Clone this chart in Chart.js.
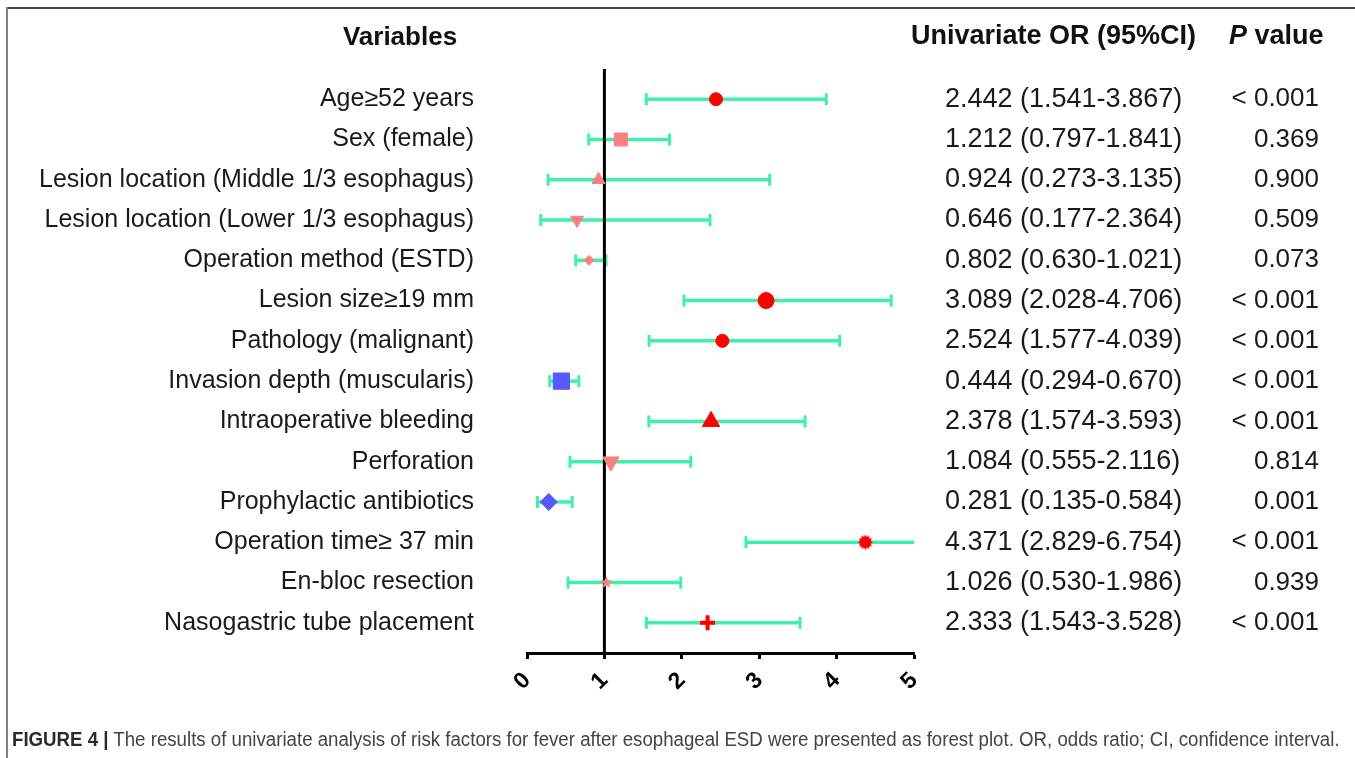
<!DOCTYPE html>
<html>
<head>
<meta charset="utf-8">
<script src="https://cdn.jsdelivr.net/npm/chart.js@4.4.0/dist/chart.umd.min.js"></script>
<style>
  html, body { margin: 0; padding: 0; background: #fff; }
  #wrap { position: relative; width: 1355px; height: 758px; overflow: hidden; }
  #frameTop { position: absolute; left: 7px; top: 7px; width: 1348px; height: 2px; background: #444; }
  #frameLeft { position: absolute; left: 6px; top: 7px; width: 2px; height: 751px; background: #808080; }
  #caption {
    position: absolute; left: 12px; top: 728px; white-space: nowrap;
    font-family: "Liberation Sans Narrow", "Liberation Sans", Arial, sans-serif;
    font-size: 20px; color: #444; transform-origin: 0 0;
  }
  #caption b { color: #2a2a2a; }
</style>
</head>
<body>
<div id="wrap">
  <canvas id="forest" width="1355" height="758"></canvas>
  <div id="frameTop"></div>
  <div id="frameLeft"></div>
  <div id="caption"><b>FIGURE 4 |</b> The results of univariate analysis of risk factors for fever after esophageal ESD were presented as forest plot. OR, odds ratio; CI, confidence interval.</div>
</div>
<script>
// --- data ---
const variables = [
  'Age≥52 years',
  'Sex (female)',
  'Lesion location (Middle 1/3 esophagus)',
  'Lesion location (Lower 1/3 esophagus)',
  'Operation method (ESTD)',
  'Lesion size≥19 mm',
  'Pathology (malignant)',
  'Invasion depth (muscularis)',
  'Intraoperative bleeding',
  'Perforation',
  'Prophylactic antibiotics',
  'Operation time≥ 37 min',
  'En-bloc resection',
  'Nasogastric tube placement'
];
const orValues = [2.442, 1.212, 0.924, 0.646, 0.802, 3.089, 2.524, 0.444, 2.378, 1.084, 0.281, 4.371, 1.026, 2.333];
const ciLow    = [1.541, 0.797, 0.273, 0.177, 0.630, 2.028, 1.577, 0.294, 1.574, 0.555, 0.135, 2.829, 0.530, 1.543];
const ciHigh   = [3.867, 1.841, 3.135, 2.364, 1.021, 4.706, 4.039, 0.670, 3.593, 2.116, 0.584, 6.754, 1.986, 3.528];
const pValues  = ['< 0.001', '0.369', '0.900', '0.509', '0.073', '< 0.001', '< 0.001', '< 0.001', '< 0.001', '0.814', '0.001', '< 0.001', '0.939', '< 0.001'];
const xTicks   = [0, 1, 2, 3, 4, 5];

// --- styling ---
Chart.defaults.animation = false;
const FONT = '"Liberation Sans", Arial, sans-serif';
const GREEN = '#40F0A8';
const RED = '#FF0000';
const SALMON = '#F88080';
const BLUE = '#5858FF';

function starImage(size, color, points, inner){
  const c = document.createElement('canvas');
  c.width = c.height = size;
  const g = c.getContext('2d');
  const r = size / 2;
  g.beginPath();
  for (let k = 0; k < points * 2; k++) {
    const a = -Math.PI / 2 + k * Math.PI / points;
    const rr = k % 2 ? r * inner : r;
    g.lineTo(r + rr * Math.cos(a), r + rr * Math.sin(a));
  }
  g.closePath();
  g.fillStyle = color;
  g.fill();
  return c;
}

const markerStyle  = ['circle', 'rect', 'triangle', 'triangle', 'rectRot', 'circle', 'circle', 'rect', 'triangle', 'triangle', 'rectRot',
                      starImage(15, RED, 12, 0.75), starImage(13, SALMON, 5, 0.45), 'cross'];
const markerRadius = [6.5, 9.2, 7.5, 7.5, 5, 8, 6.5, 11.5, 10, 9.5, 8.5, 7, 7, 7.5];
const markerColor  = [RED, SALMON, SALMON, SALMON, SALMON, RED, RED, BLUE, RED, SALMON, BLUE, RED, SALMON, RED];
const markerRot    = [0, 0, 0, 180, 0, 0, 0, 0, 0, 180, 0, 0, 0, 0];
const markerBorder = [1, 1, 1, 1, 1, 1, 1, 1, 1, 1, 1, 1, 1, 4];

const orLabels = orValues.map((v, i) => `${v.toFixed(3)} (${ciLow[i].toFixed(3)}-${ciHigh[i].toFixed(3)})`);

// CI whiskers, one line per row, caps drawn as rotated 'line' points
const ciSets = variables.map((v, i) => ({
  type: 'line',
  label: v,
  data: [{ x: ciLow[i], y: i }, { x: ciHigh[i], y: i }],
  borderColor: GREEN,
  borderWidth: 3.5,
  pointStyle: 'line',
  pointRotation: 90,
  pointRadius: 6,
  pointBorderColor: GREEN,
  pointBorderWidth: 3,
  order: 2
}));

const markerSet = {
  type: 'scatter',
  label: 'OR',
  data: orValues.map((v, i) => ({ x: v, y: i })),
  pointStyle: markerStyle,
  pointRadius: markerRadius,
  pointRotation: markerRot,
  pointBackgroundColor: markerColor,
  pointBorderColor: markerColor,
  pointBorderWidth: markerBorder,
  clip: false,
  order: 1
};

// reference line at OR = 1, drawn just before the markers
const refLine = {
  id: 'refLine',
  beforeDatasetDraw(chart, args) {
    if (args.meta.label !== 'OR') return;
    const { ctx, chartArea, scales } = chart;
    const x = scales.x.getPixelForValue(1);
    ctx.save();
    ctx.strokeStyle = '#000';
    ctx.lineWidth = 3;
    ctx.beginPath();
    ctx.moveTo(x, chartArea.top);
    ctx.lineTo(x, chartArea.bottom);
    ctx.stroke();
    ctx.restore();
  }
};

// headers and the two text columns on the right
const tableText = {
  id: 'tableText',
  afterDraw(chart) {
    const { ctx, scales } = chart;
    ctx.save();
    ctx.fillStyle = '#111';
    ctx.textBaseline = 'middle';
    ctx.font = 'bold 26px ' + FONT;
    ctx.textAlign = 'center';
    ctx.fillText('Variables', 400, 38);
    ctx.textAlign = 'left';
    ctx.font = 'bold 27px ' + FONT;
    ctx.fillText('Univariate OR (95%CI)', 911, 37);
    ctx.font = 'italic bold 27px ' + FONT;
    ctx.fillText('P', 1229, 37);
    const pw = ctx.measureText('P').width;
    ctx.font = 'bold 27px ' + FONT;
    ctx.fillText(' value', 1229 + pw, 37);

    ctx.fillStyle = '#1a1a1a';
    variables.forEach((v, i) => {
      const y = scales.y.getPixelForValue(i);
      ctx.font = '27px ' + FONT;
      ctx.textAlign = 'left';
      ctx.fillText(orLabels[i], 945, y);
      ctx.font = '26px ' + FONT;
      ctx.textAlign = 'right';
      ctx.fillText(pValues[i], 1319, y);
    });
    ctx.restore();
  }
};

new Chart(document.getElementById('forest'), {
  data: { datasets: [markerSet, ...ciSets] },
  options: {
    responsive: false,
    animation: false,
    events: [],
    layout: { padding: { top: 69, right: 441, left: 0, bottom: 0 } },
    plugins: { legend: { display: false }, tooltip: { enabled: false } },
    scales: {
      x: {
        type: 'linear',
        min: xTicks[0],
        max: xTicks[xTicks.length - 1],
        afterFit(s) { s.height = 105; },
        afterBuildTicks(s) { s.ticks = xTicks.map(v => ({ value: v })); },
        ticks: {
          color: '#000',
          font: { family: FONT, size: 23, weight: 'bold' },
          minRotation: 45,
          maxRotation: 45,
          padding: 8
        },
        grid: { drawOnChartArea: false, drawTicks: true, tickLength: 6, tickWidth: 3, tickColor: '#000' },
        border: { display: true, color: '#000', width: 3 }
      },
      y: {
        type: 'linear',
        reverse: true,
        min: -0.75,
        max: variables.length - 0.25,
        afterFit(s) { s.width = 527; },
        afterBuildTicks(s) { s.ticks = variables.map((v, i) => ({ value: i })); },
        ticks: {
          color: '#1a1a1a',
          font: { family: FONT, size: 25 },
          padding: 53,
          callback: (value) => variables[value]
        },
        grid: { display: false, drawTicks: false },
        border: { display: false }
      }
    }
  },
  plugins: [refLine, tableText]
});

const cap = document.getElementById('caption');
cap.style.transform = 'scaleX(' + (1328 / cap.scrollWidth) + ')';
</script>
</body>
</html>
